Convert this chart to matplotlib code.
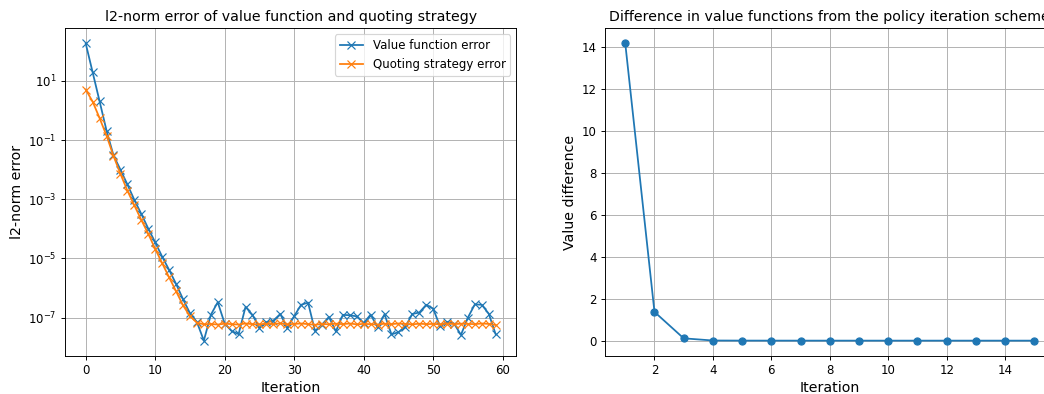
import numpy as np
import matplotlib
matplotlib.use("Agg")
import matplotlib.pyplot as plt

# Convergence of the value-function / quoting-strategy iterations
iterations = list(range(60))

value_error = [
    1.86e2, 1.95e1, 2.04e0, 2.09e-1, 3.02e-2, 1.00e-2, 3.16e-3, 9.5e-4,
    3.2e-4, 1.02e-4, 3.5e-5, 1.15e-5, 4.1e-6, 1.38e-6, 4.2e-7, 1.41e-7,
    7.1e-8, 1.66e-8, 1.23e-7, 3.3e-7, 6.3e-8, 3.5e-8, 2.75e-8, 2.3e-7,
    1.23e-7, 4.5e-8, 6.9e-8, 7.9e-8, 1.32e-7, 4.4e-8, 1.12e-7, 2.7e-7,
    3.2e-7, 3.5e-8, 5.8e-8, 1.05e-7, 3.4e-8, 1.23e-7, 1.2e-7, 1.1e-7,
    6.5e-8, 1.26e-7, 4.7e-8, 1.29e-7, 2.7e-8, 3.2e-8, 4.9e-8, 1.32e-7,
    1.48e-7, 2.7e-7, 2.0e-7, 5.0e-8, 7.1e-8, 6.3e-8, 2.6e-8, 1.0e-7,
    2.8e-7, 2.7e-7, 1.35e-7, 2.7e-8,
]

quoting_error = [
    5.1e0, 2.0e0, 5.5e-1, 1.41e-1, 2.9e-2, 7.2e-3, 1.95e-3, 6.2e-4,
    2.0e-4, 6.8e-5, 2.1e-5, 6.9e-6, 2.3e-6, 7.8e-7, 2.6e-7, 1.12e-7,
    6.8e-8, 5.9e-8, 6.1e-8, 5.8e-8, 6.2e-8, 6.0e-8, 5.8e-8, 6.3e-8,
    6.0e-8, 5.9e-8, 6.2e-8, 6.0e-8, 6.4e-8, 5.9e-8, 6.1e-8, 6.3e-8,
    6.0e-8, 5.7e-8, 6.1e-8, 5.9e-8, 6.2e-8, 6.0e-8, 6.3e-8, 5.9e-8,
    6.1e-8, 6.0e-8, 5.8e-8, 6.2e-8, 6.0e-8, 6.3e-8, 6.1e-8, 5.9e-8,
    6.2e-8, 6.0e-8, 6.1e-8, 5.9e-8, 6.3e-8, 6.0e-8, 6.2e-8, 6.1e-8,
    6.0e-8, 6.3e-8, 6.1e-8, 5.6e-8,
]

policy_iterations = list(range(1, 16))
value_difference = [14.18, 1.37, 0.11, 0.006, 0.002, 0.001, 0.0005, 0.0003,
                    0.0002, 0.0001, 0.0001, 0.0, 0.0, 0.0, 0.0]

W, H, DPI = 1044, 394, 85
plt.rcParams["axes.labelsize"] = 12
fig = plt.figure(figsize=(W / DPI, H / DPI), dpi=DPI)

ax1 = fig.add_axes([65.2 / W, 38.5 / H, 451 / W, 327 / H])
ax1.plot(iterations, value_error, marker="x", label="Value function error")
ax1.plot(iterations, quoting_error, marker="x", label="Quoting strategy error")
ax1.set_yscale("log")
ax1.yaxis.set_minor_locator(matplotlib.ticker.NullLocator())
ax1.set_title("l2-norm error of value function and quoting strategy")
ax1.set_xlabel("Iteration")
ax1.set_ylabel("l2-norm error")
ax1.grid(True)
ax1.legend(loc="upper right")

# The right panel runs past the figure's right edge
ax2 = fig.add_axes([604.8 / W, 38.5 / H, 450 / W, 327 / H])
ax2.plot(policy_iterations, value_difference, marker="o")
ax2.set_title("Difference in value functions from the policy iteration scheme")
ax2.set_xlabel("Iteration")
ax2.set_ylabel("Value difference")
ax2.grid(True)

fig.savefig("out.png", dpi=DPI)
